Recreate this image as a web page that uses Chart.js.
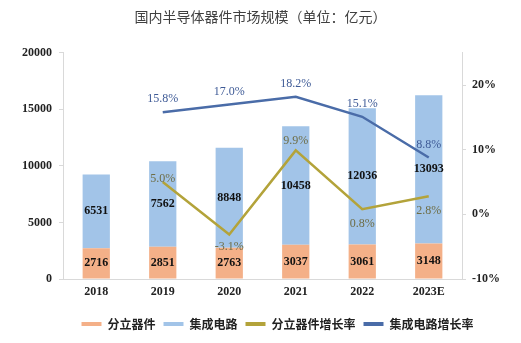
<!DOCTYPE html>
<html>
<head>
<meta charset="utf-8">
<script src="https://cdn.jsdelivr.net/npm/chart.js@4.4.0/dist/chart.umd.min.js"></script>
<style>
    html, body { margin: 0; padding: 0; background: #fff; }
    #wrap { width: 521px; height: 343px; }
</style>
</head>
<body>
<div id="wrap"><canvas id="marketChart"></canvas></div>
<script>
// 数据
const years = ['2018', '2019', '2020', '2021', '2022', '2023E'];
const discrete = [2716, 2851, 2763, 3037, 3061, 3148];
const integrated = [6531, 7562, 8848, 10458, 12036, 13093];
const discreteGrowth = [null, 5.0, -3.1, 9.9, 0.8, 2.8];
const icGrowth = [null, 15.8, 17.0, 18.2, 15.1, 8.8];
const leftTicks = [0, 5000, 10000, 15000, 20000];
const rightTicks = [-10, 0, 10, 20];
// 标签位置（上/下）
const discreteLabelPos = [null, 'on', 'below', 'above', 'below', 'below'];

const serif = "'Liberation Serif', 'Times New Roman', serif";
const cjk = "'Noto Sans CJK SC', sans-serif";

// 自定义数据标签插件
const valueLabels = {
    id: 'valueLabels',
    afterDatasetsDraw(chart) {
        const ctx = chart.ctx;
        ctx.save();
        ctx.textAlign = 'center';
        ctx.textBaseline = 'middle';
        chart.data.datasets.forEach((ds, di) => {
            const meta = chart.getDatasetMeta(di);
            meta.data.forEach((el, i) => {
                const v = ds.data[i];
                if (v === null || v === undefined) return;
                if (ds.type === 'bar') {
                    ctx.font = 'bold 12px ' + serif;
                    ctx.fillStyle = '#111';
                    ctx.fillText(String(v), el.x, (el.y + el.base) / 2);
                } else {
                    ctx.font = '12px ' + serif;
                    ctx.fillStyle = ds.labelColor;
                    let dy = -13;
                    if (ds.labelPos) {
                        const p = ds.labelPos[i];
                        dy = p === 'below' ? 12 : (p === 'on' ? -3 : -10);
                        if (p === 'below' && i >= 4) dy = 15;
                    }
                    ctx.fillText(v.toFixed(1) + '%', el.x, el.y + dy);
                }
            });
        });
        ctx.restore();
    }
};

// 图例整体右移
const shiftLegend = {
    id: 'shiftLegend',
    afterLayout(chart) {
        const lg = chart.legend;
        if (!lg) return;
        lg.left += 17;
        lg.right += 17;
    }
};

new Chart(document.getElementById('marketChart'), {
    data: {
        labels: years,
        datasets: [
            {
                type: 'bar',
                label: '分立器件',
                data: discrete,
                backgroundColor: '#f4b088',
                yAxisID: 'y',
                order: 2,
                barPercentage: 0.41,
                categoryPercentage: 1
            },
            {
                type: 'bar',
                label: '集成电路',
                data: integrated,
                backgroundColor: '#a2c4e8',
                yAxisID: 'y',
                order: 2,
                barPercentage: 0.41,
                categoryPercentage: 1
            },
            {
                type: 'line',
                label: '分立器件增长率',
                data: discreteGrowth,
                borderColor: '#b3a33a',
                backgroundColor: '#b3a33a',
                labelColor: '#6e6d45',
                labelPos: discreteLabelPos,
                borderWidth: 2.5,
                pointRadius: 0,
                tension: 0,
                yAxisID: 'y1',
                order: 1
            },
            {
                type: 'line',
                label: '集成电路增长率',
                data: icGrowth,
                borderColor: '#4a6ca8',
                backgroundColor: '#4a6ca8',
                labelColor: '#3e5a96',
                borderWidth: 2.5,
                pointRadius: 0,
                tension: 0,
                yAxisID: 'y1',
                order: 1
            }
        ]
    },
    options: {
        responsive: true,
        maintainAspectRatio: false,
        animation: false,
        layout: { padding: { left: 0, right: 0, top: 0, bottom: 3 } },
        plugins: {
            title: {
                display: true,
                text: '国内半导体器件市场规模（单位：亿元）',
                color: '#404040',
                font: { family: cjk, size: 14, weight: 'normal' },
                padding: { top: 8, bottom: 28 }
            },
            legend: {
                position: 'bottom',
                labels: {
                    color: '#222',
                    font: { family: cjk, size: 12, weight: 'bold' },
                    boxWidth: 20,
                    boxHeight: 4,
                    padding: 8,
                    generateLabels(chart) {
                        return chart.data.datasets.map((ds, i) => ({
                            text: ds.label,
                            fillStyle: ds.type === 'bar' ? ds.backgroundColor : ds.borderColor,
                            strokeStyle: ds.type === 'bar' ? ds.backgroundColor : ds.borderColor,
                            lineWidth: 0,
                            datasetIndex: i,
                            fontColor: '#222'
                        }));
                    }
                }
            },
            tooltip: { enabled: false }
        },
        scales: {
            x: {
                stacked: true,
                grid: { display: false, drawTicks: false },
                border: { color: '#d9d9d9' },
                ticks: {
                    color: '#222',
                    font: { family: serif, size: 12, weight: 'bold' },
                    padding: 6
                },
                afterFit(scale) { scale.height = 31; }
            },
            y: {
                stacked: true,
                position: 'left',
                min: 0,
                max: 20000,
                afterBuildTicks(scale) { scale.ticks = leftTicks.map(v => ({ value: v })); },
                grid: { drawOnChartArea: false, drawTicks: true, tickLength: 4, color: '#d9d9d9' },
                border: { color: '#d9d9d9' },
                ticks: {
                    color: '#222',
                    font: { family: serif, size: 12, weight: 'bold' },
                    padding: 7,
                    callback: v => String(v)
                },
                afterFit(scale) { scale.width = 63; }
            },
            y1: {
                position: 'right',
                min: -10,
                max: 25,
                afterBuildTicks(scale) { scale.ticks = rightTicks.map(v => ({ value: v })); },
                grid: { drawOnChartArea: false, drawTicks: true, tickLength: 4, color: '#d9d9d9' },
                border: { color: '#d9d9d9' },
                ticks: {
                    color: '#222',
                    font: { family: serif, size: 12, weight: 'bold' },
                    padding: 6,
                    callback: v => v + '%'
                },
                afterFit(scale) { scale.width = 59; }
            }
        }
    },
    plugins: [valueLabels, shiftLegend]
});
</script>
</body>
</html>
